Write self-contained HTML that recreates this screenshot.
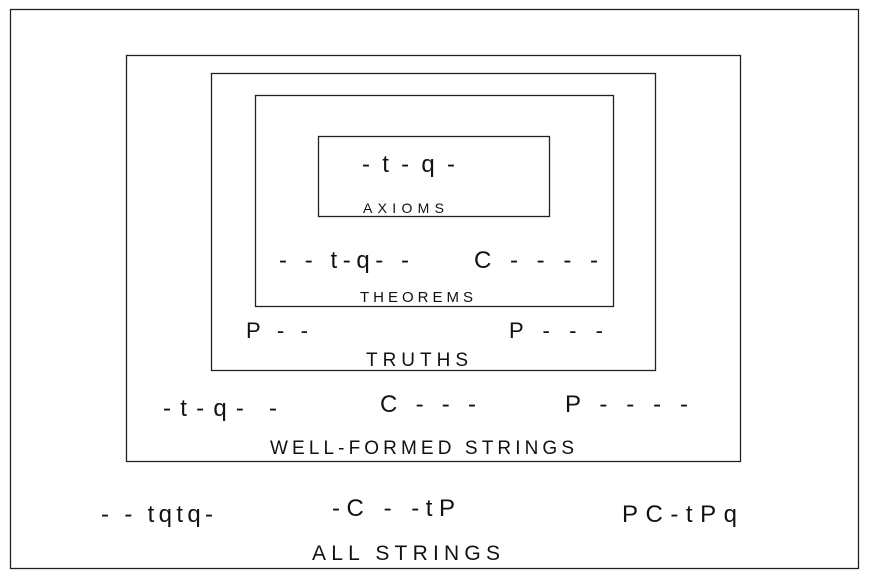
<!DOCTYPE html>
<html><head><style>body{margin:0;background:#fff}svg{display:block}</style></head>
<body>
<svg width="869" height="580" xmlns="http://www.w3.org/2000/svg" font-family="Liberation Sans, sans-serif" fill="#111">
<g fill="none" stroke="#222" stroke-width="1.3">
<rect x="10.5" y="9.5" width="848" height="559"/>
<rect x="126.5" y="55.5" width="614" height="406"/>
<rect x="211.5" y="73.5" width="444" height="297"/>
<rect x="255.5" y="95.5" width="358" height="211"/>
<rect x="318.5" y="136.5" width="231" height="80"/>
</g>
<g lengthAdjust="spacing">
<text x="362" y="172" font-size="24" textLength="93">-t-q-</text>
<text x="363" y="213" font-size="14" textLength="81">AXIOMS</text>
<text x="279" y="268" font-size="24" textLength="130">- - t-q- -</text>
<text x="474" y="268" font-size="24" textLength="124">C - - - -</text>
<text x="360" y="302" font-size="15" textLength="113">THEOREMS</text>
<text x="246" y="338" font-size="22" textLength="62">P - -</text>
<text x="509" y="338" font-size="22" textLength="94">P - - -</text>
<text x="366" y="366" font-size="19" textLength="102">TRUTHS</text>
<text x="163" y="416" font-size="24" textLength="114">-t-q- -</text>
<text x="380" y="412" font-size="24" textLength="96">C - - -</text>
<text x="565" y="412" font-size="24" textLength="123">P - - - -</text>
<text x="270" y="454" font-size="19" textLength="304">WELL-FORMED STRINGS</text>
<text x="101" y="522" font-size="24" textLength="112">- - tqtq-</text>
<text x="332" y="516" font-size="24" textLength="123">-C - -tP</text>
<text x="622" y="522" font-size="24" textLength="115">PC-tPq</text>
<text x="312" y="560" font-size="21" textLength="188">ALL STRINGS</text>
</g>
</svg>
</body></html>
